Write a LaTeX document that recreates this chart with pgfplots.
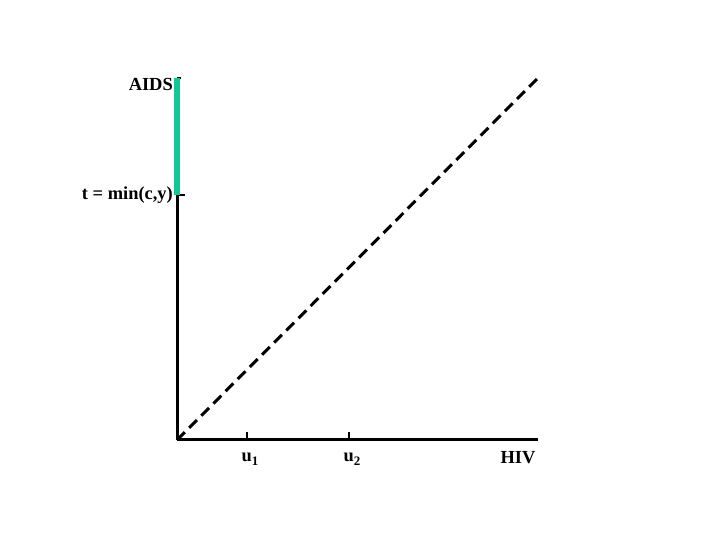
\documentclass[border=0pt]{standalone}
\usepackage{pgfplots}
\pgfplotsset{compat=1.18}
\usepackage{fontspec}
\setmainfont{Liberation Serif}
\definecolor{grn}{RGB}{16,200,150}
\begin{document}
\begin{tikzpicture}[x=1bp,y=1bp]
\useasboundingbox (0,0) rectangle (720,540);
\begin{axis}[
  at={(177bp,100bp)}, anchor=south west,
  scale only axis, width=361bp, height=362bp,
  xmin=0, xmax=361, ymin=0, ymax=362,
  axis lines=left, axis line style={-, line width=3bp},
  xtick={70,172}, ytick={245},
  xticklabels={}, yticklabels={},
  extra y ticks={362}, extra y tick labels={},
  extra y tick style={major tick length=4bp},
  tick align=inside, major tick length=8bp,
  tick style={line width=2bp, black},
  clip=false,
]
\addplot[line width=3bp, dash pattern=on 11bp off 6.2bp, black] coordinates {(0,0) (361,362)};
\addplot[line width=6bp, grn] coordinates {(0,245) (0,362)};
\node[anchor=east, font=\bfseries\fontsize{18.5}{18.5}\selectfont, inner sep=0pt] at (axis cs:-4,355) {AIDS};
\node[anchor=east, font=\bfseries\fontsize{18.5}{18.5}\selectfont, inner sep=0pt] at (axis cs:-4,245) {t = min(c,y)};
\node[anchor=center, font=\bfseries\fontsize{18.5}{18.5}\selectfont, inner sep=0pt] at (axis cs:73,-19) {u\raisebox{-0.45ex}{\fontsize{13}{13}\selectfont 1}};
\node[anchor=center, font=\bfseries\fontsize{18.5}{18.5}\selectfont, inner sep=0pt] at (axis cs:175,-19) {u\raisebox{-0.45ex}{\fontsize{13}{13}\selectfont 2}};
\node[anchor=center, font=\bfseries\fontsize{18.5}{18.5}\selectfont, inner sep=0pt] at (axis cs:341,-18) {HIV};
\end{axis}
\end{tikzpicture}
\end{document}
